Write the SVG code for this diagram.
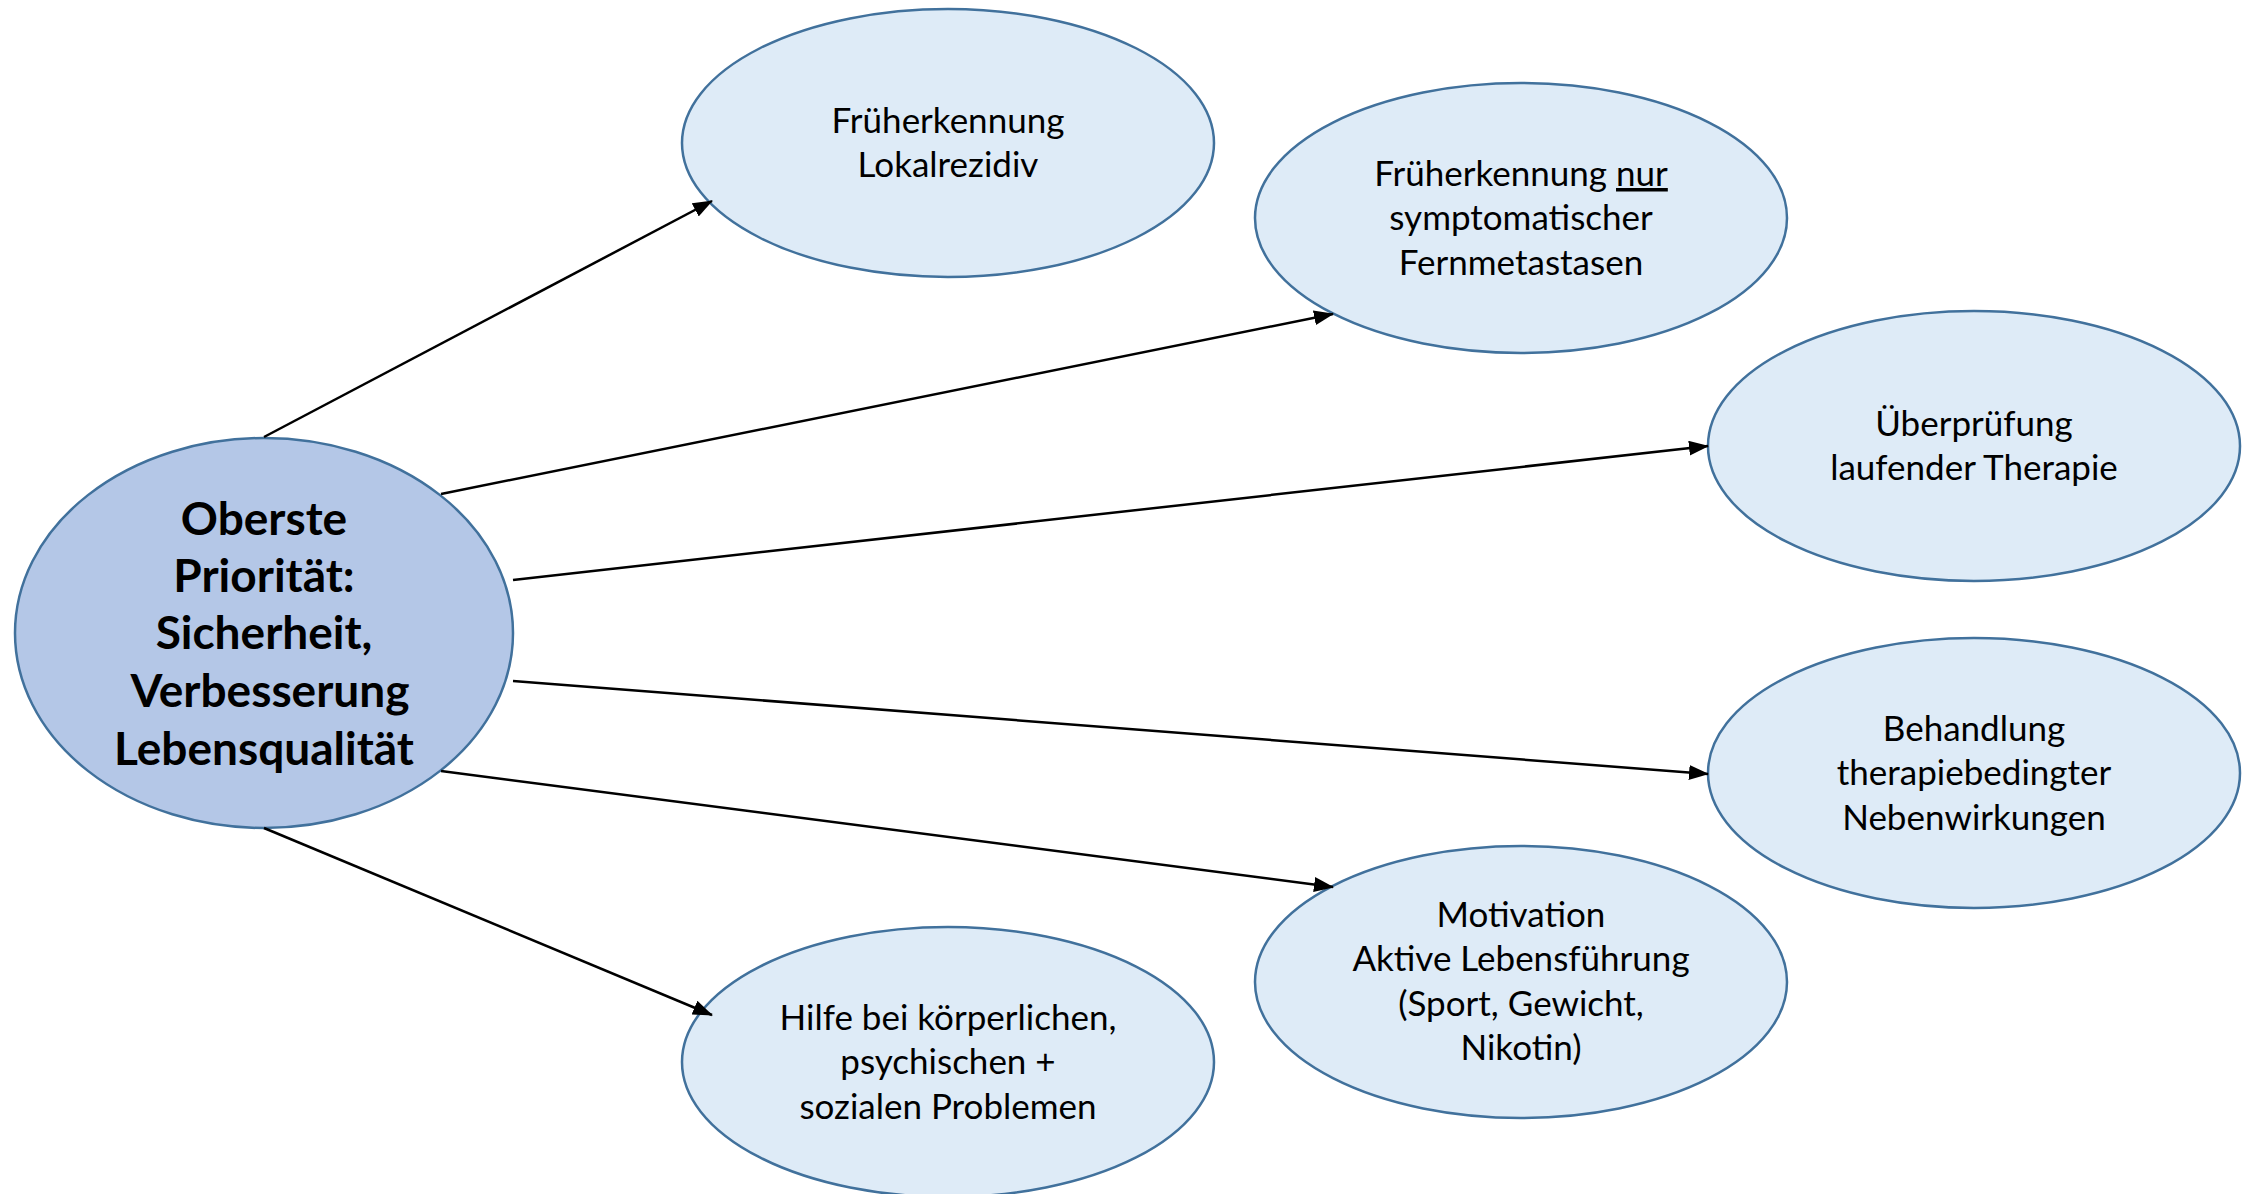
<svg xmlns="http://www.w3.org/2000/svg" width="2247" height="1194" viewBox="0 0 2247 1194">
<defs>
<marker id="arr" markerWidth="20" markerHeight="15" refX="19" refY="7.5" orient="auto" markerUnits="userSpaceOnUse" viewBox="0 0 20 15">
<path d="M0,0 L20,7.5 L0,15 Z" fill="#000"/>
</marker>
<style>
.node{fill:#DEEBF7;stroke:#41719C;stroke-width:2.5}
.main{fill:#B4C7E7;stroke:#41719C;stroke-width:2.5}
.t{font-family:Lato,"Open Sans","Liberation Sans",sans-serif;font-size:35px;fill:#000;text-anchor:middle}
.b{font-family:Lato,"Open Sans","Liberation Sans",sans-serif;font-size:46px;font-weight:bold;fill:#000;text-anchor:middle}
.c{stroke:#000;stroke-width:2.5;fill:none}
</style>
</defs>
<rect width="2247" height="1194" fill="#fff"/>
<g id="center">
<ellipse class="main" cx="264" cy="633" rx="249" ry="195"/>
<text class="b" x="264" y="535">Oberste</text>
<text class="b" x="264" y="592">Priorität:</text>
<text class="b" x="264" y="649">Sicherheit,</text>
<text class="b" x="270" y="707">Verbesserung</text>
<text class="b" x="264" y="765">Lebensqualität</text>
</g>
<g id="n1">
<ellipse class="node" cx="948" cy="143" rx="266" ry="134"/>
<text class="t" x="948" y="133">Früherkennung</text>
<text class="t" x="948" y="177">Lokalrezidiv</text>
</g>
<g id="n2">
<ellipse class="node" cx="1521" cy="218" rx="266" ry="135"/>
<text class="t" x="1521" y="186">Früherkennung <tspan text-decoration="underline">nur</tspan></text>
<text class="t" x="1521" y="230">symptomatischer</text>
<text class="t" x="1521" y="275">Fernmetastasen</text>
</g>
<g id="n3">
<ellipse class="node" cx="1974" cy="446" rx="266" ry="135"/>
<text class="t" x="1974" y="436">Überprüfung</text>
<text class="t" x="1974" y="480">laufender Therapie</text>
</g>
<g id="n4">
<ellipse class="node" cx="1974" cy="773" rx="266" ry="135"/>
<text class="t" x="1974" y="741">Behandlung</text>
<text class="t" x="1974" y="785">therapiebedingter</text>
<text class="t" x="1974" y="830">Nebenwirkungen</text>
</g>
<g id="n5">
<ellipse class="node" cx="1521" cy="982" rx="266" ry="136"/>
<text class="t" x="1521" y="927">Motivation</text>
<text class="t" x="1521" y="971">Aktive Lebensführung</text>
<text class="t" x="1521" y="1016">(Sport, Gewicht,</text>
<text class="t" x="1521" y="1060">Nikotin)</text>
</g>
<g id="n6">
<ellipse class="node" cx="948" cy="1062" rx="266" ry="135"/>
<text class="t" x="948" y="1030">Hilfe bei körperlichen,</text>
<text class="t" x="948" y="1074">psychischen +</text>
<text class="t" x="948" y="1119">sozialen Problemen</text>
</g>
<g id="connectors">
<line class="c" x1="264" y1="437" x2="712" y2="201" marker-end="url(#arr)"/>
<line class="c" x1="441" y1="494" x2="1333" y2="314" marker-end="url(#arr)"/>
<line class="c" x1="513" y1="580" x2="1708" y2="446" marker-end="url(#arr)"/>
<line class="c" x1="513" y1="681" x2="1708" y2="774" marker-end="url(#arr)"/>
<line class="c" x1="441" y1="771" x2="1333" y2="887" marker-end="url(#arr)"/>
<line class="c" x1="264" y1="828" x2="712" y2="1015" marker-end="url(#arr)"/>
</g>
</svg>
